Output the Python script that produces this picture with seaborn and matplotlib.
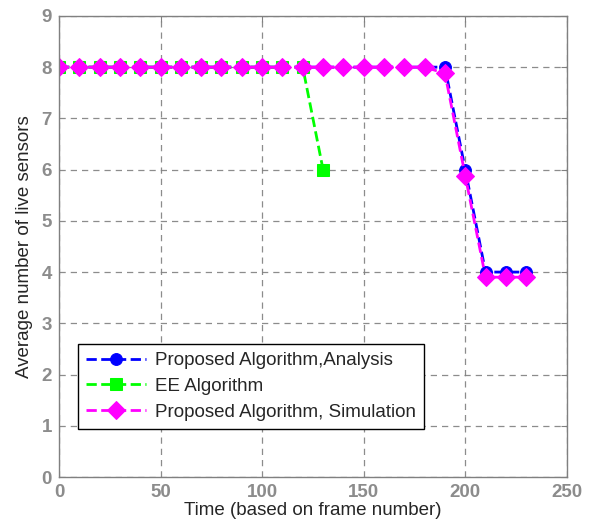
import matplotlib
matplotlib.use("Agg")
import matplotlib.pyplot as plt
import seaborn as sns
import pandas as pd

x_analysis = [0, 10, 20, 30, 40, 50, 60, 70, 80, 90, 100, 110, 120, 130, 140, 150, 160, 170, 180, 190, 200, 210, 220, 230]
y_analysis = [8]*20 + [6, 4, 4, 4]
x_ee = [0, 10, 20, 30, 40, 50, 60, 70, 80, 90, 100, 110, 120, 130]
y_ee = [8]*13 + [6]
x_sim = [0, 10, 20, 30, 40, 50, 60, 70, 80, 90, 100, 110, 120, 130, 140, 150, 160, 170, 180, 190, 200, 210, 220, 230]
y_sim = [8]*19 + [7.88, 5.88, 3.9, 3.9, 3.9]

labels = ["Proposed Algorithm,Analysis", "EE Algorithm", "Proposed Algorithm, Simulation"]

sns.set_style("white")
plt.rcParams['font.family'] = ['Liberation Sans', 'DejaVu Sans']

fig = plt.figure(figsize=(5.96, 5.30), dpi=100)
ax = fig.add_axes([0.099, 0.1, 0.852, 0.87])

sns.lineplot(x=x_analysis, y=y_analysis, ax=ax, color='#0000ff', linestyle='--', linewidth=2,
             marker='o', markersize=8.5, markeredgecolor='#0000ff', label=labels[0])
sns.lineplot(x=x_ee, y=y_ee, ax=ax, color='#00ff00', linestyle='--', linewidth=2,
             marker='s', markersize=8, markeredgecolor='#00ff00', label=labels[1])
sns.lineplot(x=x_sim, y=y_sim, ax=ax, color='#ff00ff', linestyle='--', linewidth=2,
             marker='D', markersize=9, markeredgecolor='#ff00ff', label=labels[2])

ax.set_xlim(0, 250)
ax.set_ylim(0, 9)
ax.set_xticks(range(0, 251, 50))
ax.set_yticks(range(0, 10))
ax.grid(True, color='#808080', linestyle=(0, (5, 4)), linewidth=0.9, alpha=0.9)
for s in ax.spines.values():
    s.set_color('#808080')
    s.set_linewidth(1.0)
ax.tick_params(axis='both', colors='#808080', labelsize=13.5, direction='in', length=4,
               top=True, right=True, labelcolor='#8c8c8c', pad=5)
for lab in ax.get_xticklabels() + ax.get_yticklabels():
    lab.set_fontweight('bold')
ax.set_xlabel("Time (based on frame number)", fontsize=13.5, labelpad=1)
ax.set_ylabel("Average number of live sensors", fontsize=13.5, labelpad=6)

leg = ax.legend(loc='lower left', bbox_to_anchor=(0.0374, 0.104), borderaxespad=0, fontsize=13.5,
                frameon=True, fancybox=False, edgecolor='black', framealpha=1,
                handlelength=3.2, handletextpad=0.45, borderpad=0.45, labelspacing=0.45)
leg.get_frame().set_linewidth(1.0)

fig.savefig("out.png", dpi=100)
